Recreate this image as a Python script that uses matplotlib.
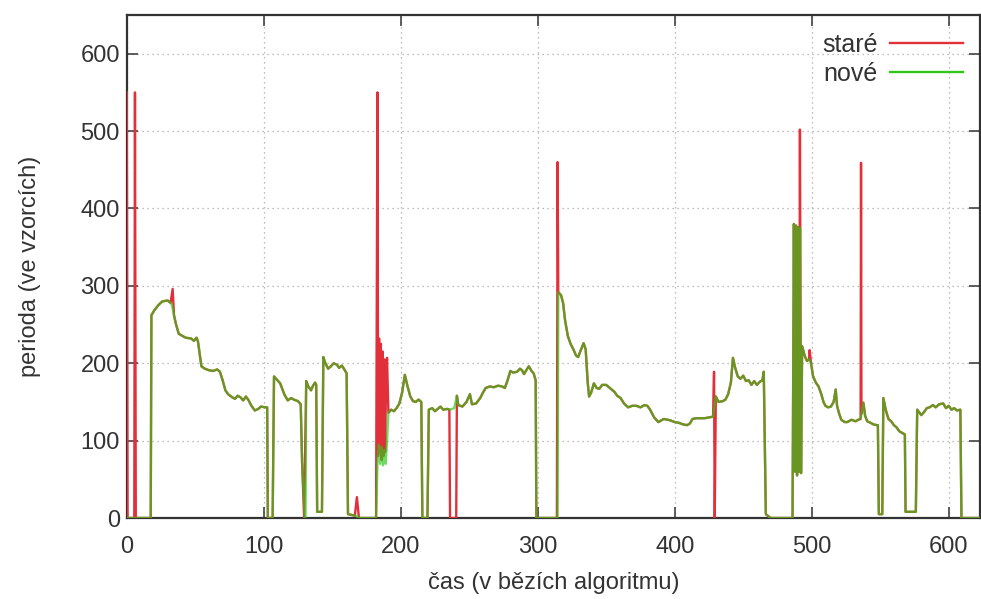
import matplotlib
matplotlib.use("Agg")
import matplotlib.pyplot as plt

# perioda nového algoritmu (zlomové body křivky)
nove_t = [0, 17.5, 18, 20, 23, 26, 30, 32, 33, 34.5, 36, 38, 40, 43, 47, 49, 51, 52, 54.5,
          57, 60, 63, 66, 68, 70, 72, 74, 77, 79, 81, 83, 85, 87, 89, 91, 93.5, 96, 98, 101,
          102.5, 103, 106.5, 107.5, 110, 112, 115, 117.5, 120, 122, 125, 127, 128, 130, 130.5,
          131, 132.5, 134.5, 136, 137.5, 138.3, 139, 142.5, 143.5, 145, 147, 149, 151, 153.5,
          155, 157, 158.5, 160.5, 161.5, 167, 170, 182, 183, 184, 185, 186, 187, 188, 189,
          190, 191, 193, 195, 197, 199, 201, 203, 205, 207, 209, 211, 213, 215, 215.8, 219.5,
          220.5, 223, 225, 227, 229, 231, 234, 236, 239, 241, 242, 245, 248, 250.5, 252, 255,
          258, 260, 262, 265, 268, 271, 274, 276, 278, 280, 282, 285, 287, 288.5, 290, 292,
          293.5, 295.5, 297, 298.5, 299, 314.5, 315, 317, 318.5, 320, 322, 324, 326, 328,
          329.5, 331, 333.5, 335, 336.5, 337.5, 339, 341, 343, 345, 347, 350, 352, 354, 356,
          358, 360.5, 363, 366, 369, 372, 375, 378, 380, 382, 385, 388, 390, 392, 395, 397,
          400, 403, 406, 409, 411, 413, 416, 419, 422, 425, 428, 430, 432, 435, 437, 439, 441,
          442.5, 444, 446, 448, 450, 452, 454, 456, 458, 460, 462, 464, 465, 466.5, 470, 486,
          487, 487.8, 488.5, 489.3, 490, 490.8, 491.5, 492.2, 493, 495, 496.5, 498, 499.5,
          501, 503, 505, 507, 508.6, 510, 512, 514, 516, 517.5, 518.5, 520, 521.6, 524, 526,
          529, 532, 534, 536, 537.7, 539, 540.5, 543, 545, 547.6, 548.3, 549, 551.5, 552.3,
          554, 556, 558, 560, 562, 564, 566, 568, 568.5, 576, 577, 580, 582, 584, 586, 588.5,
          590.5, 593, 596, 598, 600, 602, 604, 606, 608.5, 609.3, 623]
nove_y = [0, 0, 262, 268, 275, 280, 281, 278, 275, 262, 250, 238, 236, 233, 232, 229, 233, 228, 196,
          193, 191, 190, 192, 189, 178, 165, 160, 156, 154, 158, 156, 152, 157, 152, 145, 139, 141, 144, 143,
          143, 0, 0, 183, 178, 174, 160, 152, 155, 153, 151, 147, 72, 0, 0,
          177, 170, 165, 171, 175, 172, 8, 8, 208, 200, 193, 196, 200, 198,
          194, 197, 193, 187, 5, 3, 0, 0, 70, 95, 70, 92, 68, 88, 70,
          100, 136, 140, 138, 142, 148, 162, 185, 170, 157, 151, 150, 153, 150, 0, 0,
          140, 142, 138, 141, 144, 140, 141, 140, 142, 158, 146, 144, 150, 160, 147, 148,
          155, 162, 168, 170, 169, 171, 170, 168, 178, 190, 188, 189, 193, 191, 186, 192,
          196, 190, 187, 178, 0, 0, 292, 288, 278, 255, 235, 225, 218, 210,
          208, 215, 226, 218, 175, 157, 162, 174, 168, 167, 172, 172, 169, 166, 163,
          158, 155, 148, 143, 145, 145, 143, 146, 145, 140, 130, 124, 126, 128, 127, 126,
          124, 123, 121, 120, 122, 128, 129, 129, 129, 130, 131, 157, 150, 151, 153, 160, 175,
          207, 195, 183, 180, 184, 177, 178, 172, 177, 172, 176, 178, 189, 5, 0, 0,
          380, 60, 378, 55, 376, 60, 375, 58, 222, 209, 203, 205, 200,
          183, 175, 170, 160, 150, 145, 143, 144, 150, 166, 145, 135, 127, 124, 124,
          127, 125, 127, 130, 149, 132, 125, 123, 121, 120, 120, 5, 5, 155,
          140, 128, 125, 120, 117, 112, 110, 108, 8, 8, 140, 133, 137, 142, 143, 146,
          143, 147, 148, 142, 145, 140, 142, 139, 140, 0, 0]

# úseky, kde se starý algoritmus od nového liší
stare_useky = [
    ([0, 0.6, 5.5, 6, 6.6, 17.5], [550, 0, 0, 550, 0, 0]),
    ([32, 33.5, 34.5], [278, 296, 262]),
    ([127, 128, 129.5, 131], [147, 72, 0, 177]),
    ([161.5, 166.5, 168, 169.5, 170], [5, 3, 27, 0, 0]),
    ([182, 183, 183.5, 184.2, 184.8, 185.5, 186.1, 186.8, 187.4, 188, 188.6, 189.3, 190, 191],
     [0, 550, 80, 232, 85, 225, 75, 215, 80, 205, 85, 180, 207, 136]),
    ([234, 235.5, 236, 240.5, 241], [141, 140, 0, 0, 158]),
    ([299, 314, 314.5, 315], [0, 0, 460, 292]),
    ([428, 428.7, 429.2, 430], [131, 189, 0, 157]),
    ([486, 487, 487.8, 488.5, 489.3, 490, 490.8, 491.4, 492.2, 493],
     [0, 380, 60, 378, 55, 376, 60, 502, 58, 222]),
    ([498, 498.5, 499.5], [205, 217, 200]),
    ([534, 535.7, 536, 536.3, 537.7], [127, 128, 459, 135, 149]),
]


def stare_krivka():
    """Starý průběh = nový, nahrazený v odlišných úsecích."""
    body = []
    for t, y in zip(nove_t, nove_y):
        if not any(ts[0] <= t <= ts[-1] for ts, _ in stare_useky):
            body.append((t, y))
    for ts, ys in stare_useky:
        body.extend(zip(ts, ys))
    body.sort(key=lambda p: p[0])
    return [p[0] for p in body], [p[1] for p in body]


stare_t, stare_y = stare_krivka()

plt.rcParams["font.family"] = ["Liberation Sans", "DejaVu Sans"]
text_col = "#333333"

fig = plt.figure(figsize=(9.81, 5.99), dpi=100)
ax = fig.add_axes([0.1292, 0.1352, 0.870, 0.8397])

ax.plot(stare_t, stare_y, color="#e2303a", lw=1.7, label="staré", zorder=3)
ax.plot(nove_t, nove_y, color="#30c818", lw=1.7, alpha=0.68, label="nové", zorder=4)

ax.set_xlim(0, 623)
ax.set_ylim(0, 650)
ax.set_xticks(range(0, 601, 100))
ax.set_yticks(range(0, 601, 100))
ax.tick_params(direction="in", length=8, width=1.1, top=True, right=True,
               labelsize=17, labelcolor=text_col, color="#333333")
ax.tick_params(axis="y", pad=5)
ax.tick_params(axis="x", pad=13)
ax.grid(True, color="#a8a8a8", lw=0.9, linestyle=(0, (1, 3)))
for s in ax.spines.values():
    s.set_linewidth(1.6)
    s.set_color("#333333")

ax.set_xlabel("čas (v bězích algoritmu)", fontsize=17, color=text_col, labelpad=10)
ax.set_ylabel("perioda (ve vzorcích)", fontsize=17, color=text_col, labelpad=28)

leg = ax.legend(loc="upper right", frameon=False, markerfirst=False, fontsize=18,
                handlelength=2.9, handletextpad=0.5, labelspacing=0.22,
                borderaxespad=0.3, bbox_to_anchor=(1.0, 1.0))
for h in leg.legend_handles:
    h.set_alpha(1.0)
for t in leg.get_texts():
    t.set_color(text_col)

fig.savefig("out.png", dpi=100)
